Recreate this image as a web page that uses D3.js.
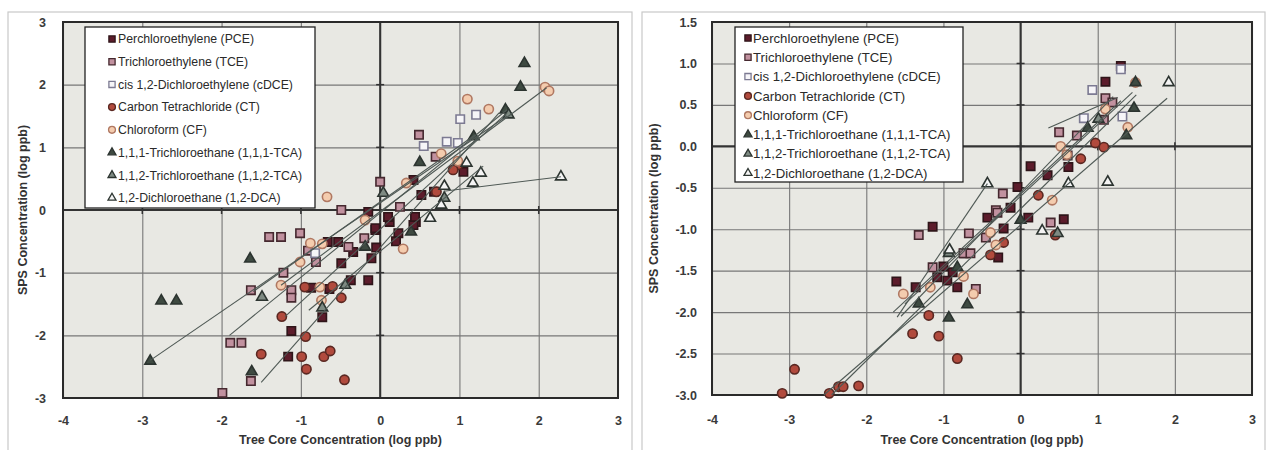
<!DOCTYPE html>
<html><head><meta charset="utf-8">
<script src="https://cdn.jsdelivr.net/npm/d3@7"></script>
<style>body{margin:0;background:#fff}svg{display:block}</style>
</head><body>
<svg id="c" width="1274" height="450"></svg>
<script>
// ---------- data ----------
const seriesNames = ["Perchloroethylene (PCE)","Trichloroethylene (TCE)","cis 1,2-Dichloroethylene (cDCE)","Carbon Tetrachloride (CT)","Chloroform (CF)","1,1,1-Trichloroethane (1,1,1-TCA)","1,1,2-Trichloroethane (1,1,2-TCA)","1,2-Dichloroethane (1,2-DCA)"];
const xTickValues = [-4,-3,-2,-1,0,1,2,3];
const leftYTicks = [-3,-2,-1,0,1,2,3];
const rightYTicks = [-3,-2.5,-2,-1.5,-1,-0.5,0,0.5,1,1.5];
const xTitle = "Tree Core Concentration (log ppb)";
const yTitle = "SPS Concentration (log ppb)";

// left panel
const leftPCE = [[-1.12,-1.93],[-1.16,-2.34],[-0.87,-1.24],[-0.64,-1.26],[-0.37,-1.12],[-0.15,-1.12],[-0.73,-1.71],[-0.66,-0.51],[-0.53,-0.51],[-0.34,-0.67],[-0.06,-0.32],[-0.49,-0.85],[-0.11,-0.77],[0.23,-0.37],[0.45,-0.19],[0.12,-0.19],[0.42,-0.24],[-0.15,-0.03],[0.1,-0.11],[0.44,-0.11],[0.42,0.48],[0.52,0.24],[0.68,0.29],[1.05,0.61],[-0.05,-0.6],[-0.06,-0.29],[0.2,-0.5]];
const leftTCE = [[-1.40,-0.43],[-1.25,-0.43],[-1.01,-0.37],[-0.91,-0.65],[-1.22,-1.0],[-1.63,-1.28],[-1.12,-1.28],[-1.12,-1.40],[-1.89,-2.12],[-1.75,-2.12],[-1.63,-2.73],[-1.99,-2.92],[-0.40,-0.59],[-0.81,-0.83],[0.49,1.2],[0.0,0.45],[-0.49,0.0],[0.70,0.85],[0.25,0.05],[-0.2,-0.45]];
const leftCDCE = [[1.01,1.45],[1.21,1.52],[0.55,1.02],[0.84,1.09],[0.98,1.07],[-0.82,-0.69]];
const leftCT = [[-0.95,-1.23],[-1.24,-1.70],[-0.94,-2.02],[-1.50,-2.30],[-0.99,-2.34],[-0.93,-2.54],[-0.71,-2.34],[-0.63,-2.25],[-0.45,-2.71],[-0.49,-1.40],[0.98,0.72],[0.92,0.64],[0.71,0.29],[-0.6,-1.22]];
const leftCF = [[2.08,1.96],[2.13,1.90],[1.10,1.77],[1.37,1.61],[0.77,0.90],[0.33,0.43],[-0.67,0.21],[-0.19,-0.16],[-0.88,-0.53],[-0.73,-0.54],[-1.01,-0.83],[-1.25,-1.20],[-0.76,-1.23],[-0.74,-1.44],[0.29,-0.62],[0.98,0.78]];
const leftTCA111 = [[1.82,2.34],[1.77,1.96],[1.58,1.60],[1.18,1.17],[0.50,0.76],[-1.64,-0.78],[-2.76,-1.45],[-2.57,-1.45],[-2.90,-2.41],[-1.62,-2.58],[0.39,-0.35],[-0.19,-0.59]];
const leftTCA112 = [[-1.49,-1.39],[-0.73,-1.56],[0.81,0.19],[1.62,1.52],[-0.44,-1.20],[0.04,0.27]];
const leftDCA = [[2.28,0.53],[1.27,0.59],[1.17,0.43],[0.81,0.38],[0.77,0.08],[0.63,-0.13],[1.09,0.75]];
const leftFits = [[-2.9,-2.4,1.6,1.5],[-1.9,-2.0,1.6,1.6],[-1.5,-2.75,1.5,1.55],[-1.25,-1.2,2.1,1.95],[-1.2,-1.7,1.6,1.55],[-0.9,-1.6,1.3,0.7],[0.8,0.3,2.28,0.53],[-1.6,-1.3,1.2,1.2]];

// right panel
const rightPCE = [[1.30,0.97],[1.10,0.78],[0.13,-0.24],[0.62,-0.25],[0.35,-0.35],[-0.04,-0.49],[-0.13,-0.74],[0.10,-0.86],[0.56,-0.88],[-1.14,-0.97],[-0.22,-0.99],[-0.29,-1.34],[-1.61,-1.63],[-1.36,-1.70],[-0.82,-1.70],[-0.73,-1.29],[-0.43,-0.86],[-1.0,-1.45],[-0.88,-1.52],[-1.08,-1.58],[-0.95,-1.62]];
const rightTCE = [[1.10,0.58],[1.19,0.53],[1.08,0.32],[0.50,0.17],[0.73,0.13],[0.61,-0.11],[-0.23,-0.57],[-0.32,-0.77],[0.39,-0.92],[-1.32,-1.07],[-0.67,-1.05],[-0.45,-1.10],[-0.74,-1.29],[-0.65,-1.29],[-1.14,-1.46],[-0.58,-1.72],[-0.3,-0.8]];
const rightCDCE = [[1.30,0.93],[0.93,0.68],[0.82,0.34],[1.32,0.36]];
const rightCT = [[0.97,0.04],[1.08,-0.01],[0.78,-0.15],[0.23,-0.59],[0.45,-1.07],[-0.22,-1.16],[-0.39,-1.31],[-1.19,-2.04],[-1.40,-2.26],[-1.06,-2.29],[-0.82,-2.56],[-2.93,-2.69],[-3.09,-2.98],[-2.48,-2.98],[-2.36,-2.90],[-2.30,-2.90],[-2.10,-2.89]];
const rightCF = [[1.49,0.77],[1.10,0.45],[1.39,0.23],[0.52,0.0],[0.41,-0.65],[-0.39,-1.04],[-0.32,-1.19],[-1.52,-1.78],[-1.17,-1.70],[-0.74,-1.57],[-0.61,-1.78],[0.6,-0.1]];
const rightTCA111 = [[1.49,0.77],[1.47,0.46],[0.87,0.22],[1.37,0.13],[-0.82,-1.46],[-1.32,-1.90],[-0.69,-1.91],[-0.93,-2.07],[0.0,-0.89]];
const rightTCA112 = [[1.01,0.33],[0.48,-1.05],[-0.93,-1.29]];
const rightDCA = [[1.92,0.77],[-0.43,-0.45],[0.62,-0.45],[1.13,-0.43],[0.28,-1.02],[-0.92,-1.25]];
const rightFits = [[-2.55,-3.0,1.9,0.58],[-2.45,-3.0,1.5,0.62],[-1.6,-2.06,-0.43,-0.45],[-1.65,-2.0,1.3,0.55],[-1.55,-2.05,1.2,0.6],[0.36,0.22,1.26,0.59],[-1.5,-1.9,1.45,0.65]];

// ---------- styles ----------
const styles = [
  {shape:"square", fill:"#5c1c2b", stroke:"#2e1519"},
  {shape:"square", fill:"#c1919f", stroke:"#45282f"},
  {shape:"square", fill:"#f6f5f8", stroke:"#7c7a92"},
  {shape:"circle", fill:"#b14a3d", stroke:"#5a2822"},
  {shape:"circle", fill:"#f4ccae", stroke:"#b07862"},
  {shape:"triangle", fill:"#3e4a41", stroke:"#2c3430"},
  {shape:"triangle", fill:"#7e8a82", stroke:"#2c3430"},
  {shape:"triangle", fill:"#f4f4f4", stroke:"#2c3430"}
];
const symType = {square:d3.symbolSquare, circle:d3.symbolCircle, triangle:d3.symbolTriangle};
const symSize = {square:70, circle:68, triangle:50};
const FONT = "Liberation Sans, Arial, sans-serif";

const svg = d3.select("#c");

function panel(P) {
  const x = d3.scaleLinear().domain([-4,3]).range([P.x0,P.x1]);
  const y = d3.scaleLinear().domain(P.yDomain).range([P.y1,P.y0]);
  const g = svg.append("g");
  g.append("rect").attr("x",P.fx0).attr("y",12).attr("width",P.fx1-P.fx0).attr("height",460)
    .attr("fill","none").attr("stroke","#c9c9c9").attr("stroke-width",1.2);
  g.append("rect").attr("x",P.x0).attr("y",P.y0).attr("width",P.x1-P.x0).attr("height",P.y1-P.y0)
    .attr("fill","#e8e8e3");
  const gx = g.append("g").attr("transform",`translate(0,${P.y1})`)
    .call(d3.axisBottom(x).tickValues(xTickValues).tickSize(-(P.y1-P.y0)).tickFormat(""));
  const gy = g.append("g").attr("transform",`translate(${P.x0},0)`)
    .call(d3.axisLeft(y).tickValues(P.yTicks).tickSize(-(P.x1-P.x0)).tickFormat(""));
  [gx,gy].forEach(a=>{a.select(".domain").remove(); a.selectAll("line").attr("stroke","#777").attr("stroke-width",1.1);});
  g.append("line").attr("x1",x(0)).attr("x2",x(0)).attr("y1",P.y0).attr("y2",P.y1).attr("stroke","#333").attr("stroke-width",2);
  g.append("line").attr("x1",P.x0).attr("x2",P.x1).attr("y1",y(0)).attr("y2",y(0)).attr("stroke","#333").attr("stroke-width",2);
  P.yTicks.forEach(v=>g.append("line").attr("x1",x(0)-4).attr("x2",x(0)+4).attr("y1",y(v)).attr("y2",y(v)).attr("stroke","#333").attr("stroke-width",1.5));
  xTickValues.forEach(v=>g.append("line").attr("x1",x(v)).attr("x2",x(v)).attr("y1",y(0)-4).attr("y2",y(0)+4).attr("stroke","#333").attr("stroke-width",1.5));
  g.append("rect").attr("x",P.x0).attr("y",P.y0).attr("width",P.x1-P.x0).attr("height",P.y1-P.y0)
    .attr("fill","none").attr("stroke","#2a2a2a").attr("stroke-width",2);
  P.series.forEach((pts,i)=>{
    const st = styles[i];
    const sym = d3.symbol().type(symType[st.shape]).size(symSize[st.shape]);
    g.append("g").selectAll("path").data(pts).join("path")
      .attr("d",sym).attr("transform",d=>`translate(${x(d[0])},${y(d[1])})`)
      .attr("fill",st.fill).attr("stroke",st.stroke).attr("stroke-width",1.6);
  });
  g.append("g").selectAll("line").data(P.fits).join("line")
    .attr("x1",d=>x(d[0])).attr("y1",d=>y(d[1])).attr("x2",d=>x(d[2])).attr("y2",d=>y(d[3]))
    .attr("stroke","#4f5955").attr("stroke-width",1.1);
  const L = P.legend;
  const lg = g.append("g");
  lg.append("rect").attr("x",L.x0).attr("y",L.y0).attr("width",L.x1-L.x0).attr("height",L.y1-L.y0)
    .attr("fill","#fff").attr("stroke","#222").attr("stroke-width",1.3);
  seriesNames.forEach((name,i)=>{
    const st = styles[i];
    const cy = L.first + i*L.step;
    lg.append("path").attr("d",d3.symbol().type(symType[st.shape]).size(symSize[st.shape]*0.55)())
      .attr("transform",`translate(${L.mx},${cy})`).attr("fill",st.fill).attr("stroke",st.stroke).attr("stroke-width",1.3);
    lg.append("text").attr("x",L.tx).attr("y",cy).attr("dy","0.35em").text(name)
      .attr("font-family",FONT).attr("font-size",L.fs).attr("fill","#2a2a2a")
      .attr("letter-spacing",L.ls);
  });
  const tx = g.append("g").attr("transform",`translate(0,${P.y1})`)
    .call(d3.axisBottom(x).tickValues(xTickValues).tickSize(0).tickPadding(P.xPad).tickFormat(d3.format("d")));
  const ty = g.append("g").attr("transform",`translate(${P.x0},0)`)
    .call(d3.axisLeft(y).tickValues(P.yTicks).tickSize(0).tickPadding(P.yPad).tickFormat(d3.format(P.yFmt)));
  [tx,ty].forEach(a=>{a.select(".domain").remove();
    a.selectAll("text").attr("font-family",FONT).attr("font-size",12.5)
      .attr("font-weight","bold").attr("fill","#3a3a3a");});
  tx.selectAll("text").text(d=>String(d).replace("\u2212","-"));
  ty.selectAll("text").text(d=>d3.format(P.yFmt)(d).replace("\u2212","-"));
  g.append("text").attr("x",(P.x0+P.x1)/2).attr("y",444).attr("text-anchor","middle").text(xTitle)
    .attr("font-family",FONT).attr("font-size",12.5).attr("font-weight","bold").attr("fill","#333");
  g.append("text").attr("transform",`translate(${P.ytx},${(P.y0+P.y1)/2}) rotate(-90)`).attr("text-anchor","middle").text(yTitle)
    .attr("font-family",FONT).attr("font-size",12.5).attr("font-weight","bold").attr("fill","#333");
}

panel({x0:63,x1:618,y0:22,y1:398,fx0:8,fx1:632,yDomain:[-3,3],yTicks:leftYTicks,yFmt:"d",xPad:18,yPad:17,ytx:27,
  series:[leftPCE,leftTCE,leftCDCE,leftCT,leftCF,leftTCA111,leftTCA112,leftDCA],fits:leftFits,
  legend:{x0:85,x1:315,y0:27,y1:208,first:39,step:22.7,mx:112,tx:118,fs:12.3,ls:0}});
panel({x0:712,x1:1252,y0:22,y1:395,fx0:642,fx1:1265,yDomain:[-3,1.5],yTicks:rightYTicks,yFmt:".1f",xPad:20,yPad:15,ytx:658,
  series:[rightPCE,rightTCE,rightCDCE,rightCT,rightCF,rightTCA111,rightTCA112,rightDCA],fits:rightFits,
  legend:{x0:735,x1:963,y0:27,y1:182,first:38,step:19.3,mx:748,tx:753,fs:13.2,ls:0}});
</script>
</body></html>
